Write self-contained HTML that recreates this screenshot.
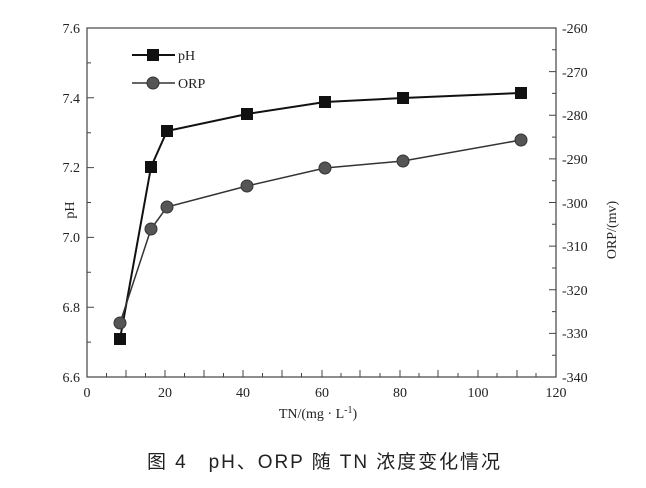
<!DOCTYPE html><html><head><meta charset="utf-8"><style>body{margin:0;background:#fff}svg{display:block}</style></head><body>
<svg width="646" height="488" viewBox="0 0 646 488" font-family="Liberation Serif, serif" fill="#222">
<g stroke="#444" stroke-width="1">
<path d="M87 377v-7M106.5 377v-4M126 377v-7M145.5 377v-4M165 377v-7M184.5 377v-4M204 377v-7M223.5 377v-4M243 377v-7M262.5 377v-4M282 377v-7M301.5 377v-4M322 377v-7M341 377v-4M360 377v-7M380 377v-4M400 377v-7M419 377v-4M438 377v-7M458 377v-4M478 377v-7M497 377v-4M517 377v-7M536 377v-4"/>
<path d="M87 377h7M87 342.1h4M87 307.2h7M87 272.3h4M87 237.4h7M87 202.5h4M87 167.6h7M87 132.7h4M87 97.8h7M87 62.9h4M87 28h7"/>
<path d="M556 377h-7M556 355.2h-4M556 333.4h-7M556 311.6h-4M556 289.8h-7M556 268h-4M556 246.1h-7M556 224.3h-4M556 202.5h-7M556 180.7h-4M556 158.9h-7M556 137.1h-4M556 115.3h-7M556 93.4h-4M556 71.6h-7M556 49.8h-4M556 28h-7"/>
</g>
<rect x="87" y="28" width="469" height="349" fill="none" stroke="#444" stroke-width="1.2"/>
<g font-size="14" text-anchor="middle">
<text x="87" y="397">0</text><text x="165" y="397">20</text><text x="243" y="397">40</text><text x="322" y="397">60</text><text x="400" y="397">80</text><text x="478" y="397">100</text><text x="556" y="397">120</text>
</g>
<g font-size="14" text-anchor="end">
<text x="80" y="382">6.6</text><text x="80" y="312">6.8</text><text x="80" y="242">7.0</text><text x="80" y="172">7.2</text><text x="80" y="103">7.4</text><text x="80" y="33">7.6</text>
</g>
<g font-size="14" text-anchor="start">
<text x="562" y="33">-260</text><text x="562" y="77">-270</text><text x="562" y="120">-280</text><text x="562" y="164">-290</text><text x="562" y="208">-300</text><text x="562" y="251">-310</text><text x="562" y="295">-320</text><text x="562" y="338">-330</text><text x="562" y="382">-340</text>
</g>
<text x="74" y="210" font-size="14" text-anchor="middle" transform="rotate(-90 74 210)">pH</text>
<text x="616" y="230" font-size="14" text-anchor="middle" transform="rotate(-90 616 230)">ORP/(mv)</text>
<text x="318" y="418" font-size="14" text-anchor="middle">TN/(mg · L<tspan font-size="10" dy="-5">-1</tspan><tspan dy="5">)</tspan></text>
<polyline fill="none" stroke="#111" stroke-width="2" points="120,339 151,167 167,131 247,114 325,102 403,98 521,93"/>
<polyline fill="none" stroke="#333" stroke-width="1.5" points="120,323 151,229 167,207 247,186 325,168 403,161 521,140"/>
<g fill="#111"><rect x="114" y="333" width="12" height="12"/><rect x="145" y="161" width="12" height="12"/><rect x="161" y="125" width="12" height="12"/><rect x="241" y="108" width="12" height="12"/><rect x="319" y="96" width="12" height="12"/><rect x="397" y="92" width="12" height="12"/><rect x="515" y="87" width="12" height="12"/></g>
<g fill="#555" stroke="#333"><circle cx="120" cy="323" r="6"/><circle cx="151" cy="229" r="6"/><circle cx="167" cy="207" r="6"/><circle cx="247" cy="186" r="6"/><circle cx="325" cy="168" r="6"/><circle cx="403" cy="161" r="6"/><circle cx="521" cy="140" r="6"/></g>
<line x1="132" y1="55" x2="175" y2="55" stroke="#111" stroke-width="2"/><rect x="147" y="49" width="12" height="12" fill="#111"/>
<text x="178" y="60" font-size="14">pH</text>
<line x1="132" y1="83" x2="175" y2="83" stroke="#333" stroke-width="1.5"/><circle cx="153" cy="83" r="6" fill="#555" stroke="#333"/>
<text x="178" y="88" font-size="14">ORP</text>
<text x="147" y="468" font-size="19" textLength="353" lengthAdjust="spacing" font-family="Liberation Sans, Noto Sans CJK SC, sans-serif" fill="#222">图 4　pH、ORP 随 TN 浓度变化情况</text>
</svg>
</body></html>
